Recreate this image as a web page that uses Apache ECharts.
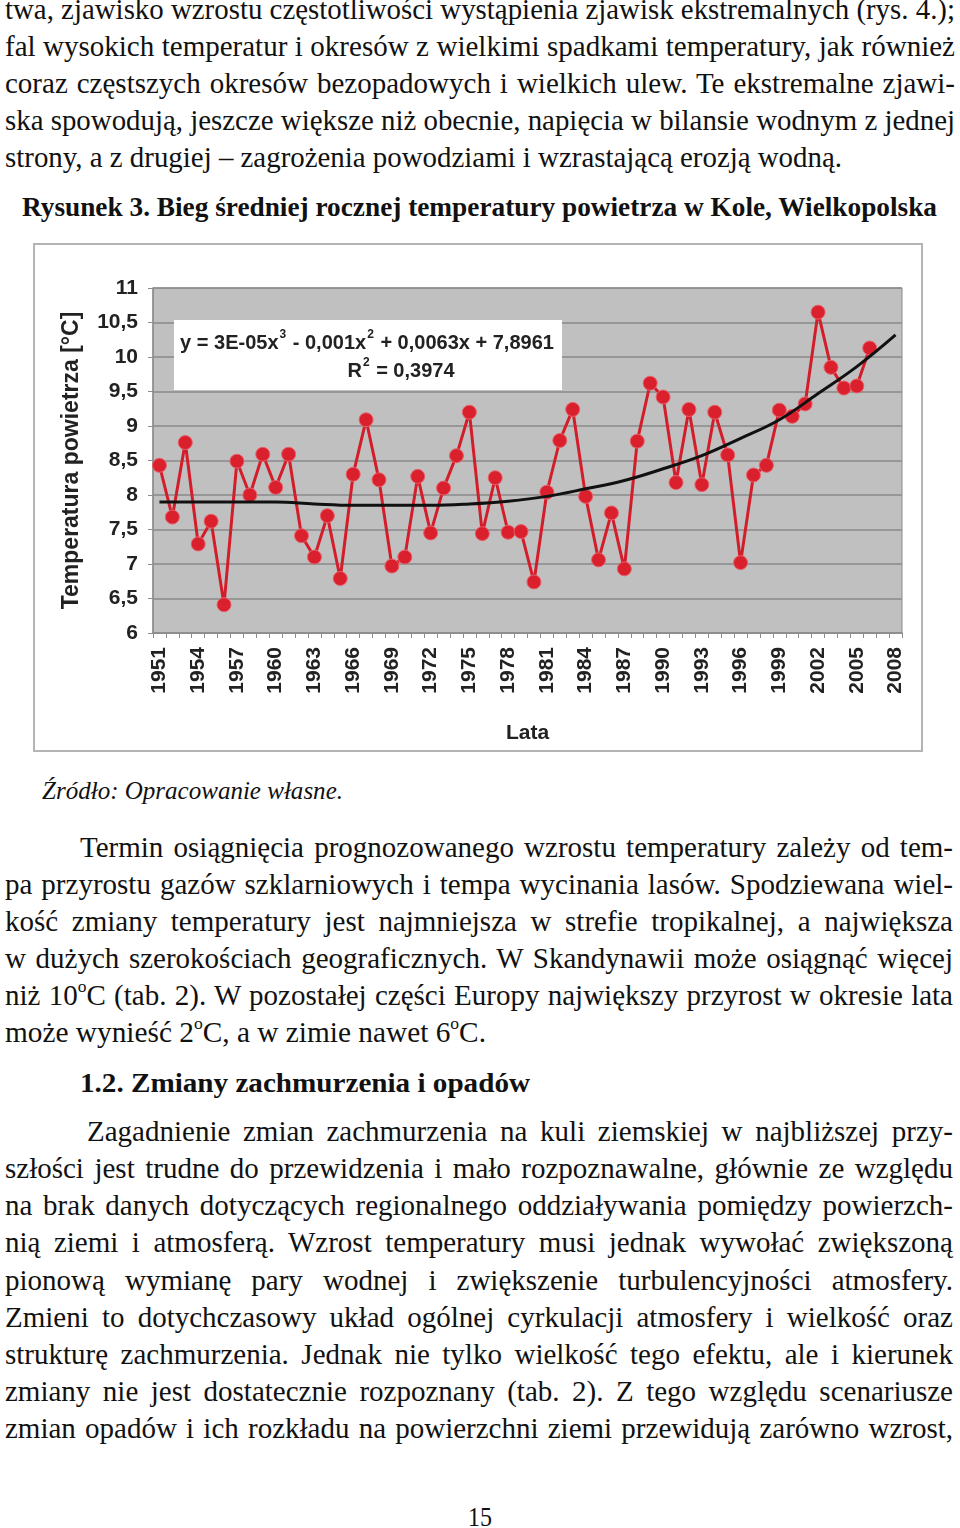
<!DOCTYPE html>
<html lang="pl">
<head>
<meta charset="utf-8">
<script src="https://cdn.jsdelivr.net/npm/echarts@6/dist/echarts.min.js"></script>
<style>
  html, body { margin: 0; padding: 0; background: #fff; }
  body { width: 960px; height: 1528px; position: relative; overflow: hidden; }
  .ln { position: absolute; white-space: nowrap; font-family: "Liberation Serif", "Times New Roman", "Nimbus Roman", serif; font-size: 29px; line-height: 1; color: #111; transform-origin: 0 0; }
  .b { font-weight: bold; }
  .i { font-style: italic; }
  .sup { font-size: 0.6em; position: relative; top: -0.75em; }
  #chart { position: absolute; left: 33px; top: 243px; width: 890px; height: 509px; box-sizing: border-box; border: 2px solid #b4b4b4; background: #fff; }
</style>
</head>
<body>
<div id="chart"></div>
<script>
// ---- data ----
const years = ['1951','1952','1953','1954','1955','1956','1957','1958','1959','1960',
  '1961','1962','1963','1964','1965','1966','1967','1968','1969','1970',
  '1971','1972','1973','1974','1975','1976','1977','1978','1979','1980',
  '1981','1982','1983','1984','1985','1986','1987','1988','1989','1990',
  '1991','1992','1993','1994','1995','1996','1997','1998','1999','2000',
  '2001','2002','2003','2004','2005','2006','2007','2008'];
const temperature = [8.43, 7.68, 8.76, 7.29, 7.62, 6.41, 8.49, 8.00, 8.59, 8.11,
  8.59, 7.41, 7.10, 7.70, 6.79, 8.30, 9.09, 8.22, 6.97, 7.10,
  8.27, 7.45, 8.10, 8.57, 9.20, 7.44, 8.25, 7.46, 7.47, 6.74,
  8.04, 8.79, 9.24, 7.98, 7.06, 7.74, 6.93, 8.78, 9.62, 9.42,
  8.18, 9.24, 8.15, 9.20, 8.58, 7.02, 8.29, 8.43, 9.23, 9.14,
  9.32, 10.65, 9.85, 9.55, 9.58, 10.13];
const trendYears = ['1951','1954','1957','1960','1963','1966','1969','1972','1975','1978',
  '1981','1984','1987','1990','1993','1996','1999','2002','2005','2008'];
const trendValues = [7.90, 7.90, 7.90, 7.90, 7.87, 7.85, 7.85, 7.85, 7.87, 7.91,
  7.98, 8.09, 8.21, 8.38, 8.57, 8.82, 9.09, 9.47, 9.86, 10.32];
const yTicks = [6, 6.5, 7, 7.5, 8, 8.5, 9, 9.5, 10, 10.5, 11];

// ---- page text ----
const lines = [
  {x:5, b:19, w:950, j:true, h:'twa, zjawisko wzrostu częstotliwości wystąpienia zjawisk ekstremalnych (rys. 4.);'},
  {x:5, b:56, w:950, j:true, h:'fal wysokich temperatur i okresów z wielkimi spadkami temperatury, jak również'},
  {x:5, b:93, w:950, j:true, h:'coraz częstszych okresów bezopadowych i wielkich ulew. Te ekstremalne zjawi-'},
  {x:5, b:130, w:950, j:true, h:'ska spowodują, jeszcze większe niż obecnie, napięcia w bilansie wodnym z jednej'},
  {x:5, b:167, w:837, j:false, h:'strony, a z drugiej – zagrożenia powodziami i wzrastającą erozją wodną.'},
  {x:22, b:216, w:915, j:false, c:'b', s:28, h:'Rysunek 3. Bieg średniej rocznej temperatury powietrza w Kole, Wielkopolska'},
  {x:42, b:800, w:301, j:false, c:'i', s:26, h:'Źródło: Opracowanie własne.'},
  {x:80, b:857, w:873, j:true, h:'Termin osiągnięcia prognozowanego wzrostu temperatury zależy od tem-'},
  {x:5, b:894, w:948, j:true, h:'pa przyrostu gazów szklarniowych i tempa wycinania lasów. Spodziewana wiel-'},
  {x:5, b:931, w:948, j:true, h:'kość zmiany temperatury jest najmniejsza w strefie tropikalnej, a największa'},
  {x:5, b:968, w:948, j:true, h:'w dużych szerokościach geograficznych. W Skandynawii może osiągnąć więcej'},
  {x:5, b:1005, w:948, j:true, h:'niż 10<span class="sup">o</span>C (tab. 2). W pozostałej części Europy największy przyrost w okresie lata'},
  {x:5, b:1042, w:481, j:false, h:'może wynieść 2<span class="sup">o</span>C, a w zimie nawet 6<span class="sup">o</span>C.'},
  {x:80, b:1092, w:450, j:false, c:'b', s:28, h:'1.2. Zmiany zachmurzenia i opadów'},
  {x:87, b:1141, w:866, j:true, h:'Zagadnienie zmian zachmurzenia na kuli ziemskiej w najbliższej przy-'},
  {x:5, b:1178, w:948, j:true, h:'szłości jest trudne do przewidzenia i mało rozpoznawalne, głównie ze względu'},
  {x:5, b:1215, w:948, j:true, h:'na brak danych dotyczących regionalnego oddziaływania pomiędzy powierzch-'},
  {x:5, b:1252, w:948, j:true, h:'nią ziemi i atmosferą. Wzrost temperatury musi jednak wywołać zwiększoną'},
  {x:5, b:1290, w:948, j:true, h:'pionową wymianę pary wodnej i zwiększenie turbulencyjności atmosfery.'},
  {x:5, b:1327, w:948, j:true, h:'Zmieni to dotychczasowy układ ogólnej cyrkulacji atmosfery i wielkość oraz'},
  {x:5, b:1364, w:948, j:true, h:'strukturę zachmurzenia. Jednak nie tylko wielkość tego efektu, ale i kierunek'},
  {x:5, b:1401, w:948, j:true, h:'zmiany nie jest dostatecznie rozpoznany (tab. 2). Z tego względu scenariusze'},
  {x:5, b:1438, w:948, j:true, h:'zmian opadów i ich rozkładu na powierzchni ziemi przewidują zarówno wzrost,'},
  {x:468, b:1527, w:24, j:false, s:27, h:'15'}
];
lines.forEach(function (L) {
  const d = document.createElement('div');
  d.className = 'ln' + (L.c ? ' ' + L.c : '');
  const fs = L.s || 29;
  d.style.fontSize = fs + 'px';
  d.innerHTML = L.h;
  d.style.left = L.x + 'px';
  d.style.top = (L.b - 0.8375 * fs) + 'px';
  document.body.appendChild(d);
  const nat = d.getBoundingClientRect().width;
  if (L.j && nat < L.w) {
    const spaces = (d.textContent.match(/ /g) || []).length;
    if (spaces > 0) d.style.wordSpacing = ((L.w - nat) / spaces) + 'px';
  } else {
    d.style.transform = 'scaleX(' + (L.w / nat) + ')';
  }
});

// ---- chart ----
const chart = echarts.init(document.getElementById('chart'), null, {renderer: 'canvas'});
const sans = '"Liberation Sans", Arial, sans-serif';
const axisFont = {fontFamily: sans, fontWeight: 'bold', fontSize: 21, color: '#222'};
const supRich = {
  n: {fontFamily: sans, fontWeight: 'bold', fontSize: 20, fill: '#222', lineHeight: 24, verticalAlign: 'bottom'},
  s: {fontFamily: sans, fontWeight: 'bold', fontSize: 12, fill: '#222', lineHeight: 24, verticalAlign: 'top', padding: [0, 1, 10, 1]}
};
chart.setOption({
  animation: false,
  backgroundColor: '#fff',
  grid: {left: 118, right: 19, top: 43, bottom: 117, show: true, backgroundColor: '#c0c0c0', borderColor: '#8c8c8c', borderWidth: 1},
  xAxis: {
    type: 'category',
    data: years,
    boundaryGap: true,
    name: 'Lata',
    nameLocation: 'middle',
    nameGap: 90,
    nameTextStyle: Object.assign({}, axisFont, {fontSize: 21}),
    axisLine: {lineStyle: {color: '#8c8c8c', width: 1.5}},
    axisTick: {show: true, interval: 0, length: 5, lineStyle: {color: '#8c8c8c'}},
    axisLabel: Object.assign({interval: 2, rotate: 90, margin: 14}, axisFont),
    splitLine: {show: false}
  },
  yAxis: {
    type: 'value',
    min: yTicks[0],
    max: yTicks[yTicks.length - 1],
    interval: 0.5,
    name: 'Temperatura powietrza [°C]',
    nameLocation: 'middle',
    nameGap: 70,
    nameRotate: 90,
    nameTextStyle: Object.assign({}, axisFont, {fontSize: 23}),
    axisLine: {show: true, lineStyle: {color: '#8c8c8c', width: 1.5}},
    axisTick: {show: true, length: 5, lineStyle: {color: '#8c8c8c'}},
    axisLabel: Object.assign({margin: 15, formatter: function (v) { return String(v).replace('.', ','); }}, axisFont),
    splitLine: {show: true, lineStyle: {color: '#8a8a8a', width: 1.5}}
  },
  series: [
    {
      name: 'Temperatura',
      type: 'line',
      data: temperature,
      symbol: 'circle',
      symbolSize: 14,
      showAllSymbol: true,
      lineStyle: {color: '#d41d2b', width: 3},
      itemStyle: {color: '#da1f2d', borderColor: '#e8606a', borderWidth: 1},
      z: 3
    },
    {
      name: 'Trend',
      type: 'line',
      data: trendYears.map(function (y, i) { return [y, trendValues[i]]; }),
      smooth: 0.4,
      symbol: 'none',
      lineStyle: {color: '#111', width: 3},
      z: 4
    }
  ],
  graphic: [
    {type: 'rect', left: 139, top: 75, shape: {width: 388, height: 70}, style: {fill: '#fff'}, z: 100},
    {type: 'text', x: 332, y: 96, z: 101, style: {
      text: '{n|y = 3E-05x}{s|3}{n| - 0,001x}{s|2}{n| + 0,0063x + 7,8961}',
      align: 'center', verticalAlign: 'middle', rich: supRich
    }},
    {type: 'text', x: 366, y: 124, z: 101, style: {
      text: '{n|R}{s|2}{n| = 0,3974}',
      align: 'center', verticalAlign: 'middle', rich: supRich
    }}
  ]
});
</script>
</body>
</html>
